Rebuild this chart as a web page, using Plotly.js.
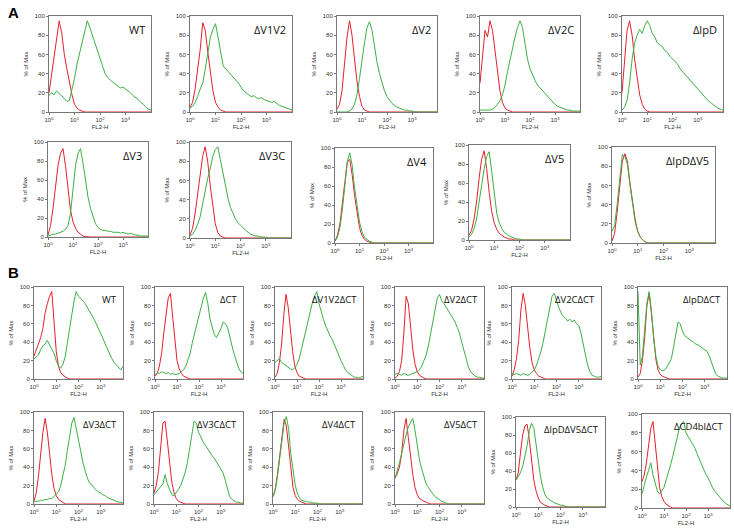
<!DOCTYPE html>
<html><head><meta charset="utf-8">
<script src="https://cdn.plot.ly/plotly-3.0.1.min.js"></script>
<style>html,body{margin:0;padding:0;background:#fff}#chart{width:734px;height:528px}</style>
</head><body><div id="chart"></div>
<script>
// FL2-H channel positions (log10 decades) at which the histograms were read
const decades = [0,0.1,0.2,0.3,0.4,0.5,0.6,0.7,0.8,0.9,1.0,1.1,1.2,1.3,1.4,1.5,1.6,1.7,1.8,1.9,2.0,2.1,2.2,2.3,2.4,2.5,2.6,2.7,2.8,2.9,3.0,3.1,3.2,3.3,3.4,3.5,3.6,3.7,3.8,3.9,4.0];
const xTickVals = [1,10,100,1000];
const xTickText = ['10<sup>0</sup>','10<sup>1</sup>','10<sup>2</sup>','10<sup>3</sup>'];
const yTickVals = [0,20,40,60,80,100];
const panelLabels = ['WT','ΔV1V2','ΔV2','ΔV2C','ΔlpD','ΔV3','ΔV3C','ΔV4','ΔV5','ΔlpDΔV5',
  'WT','ΔCT','ΔV1V2ΔCT','ΔV2ΔCT','ΔV2CΔCT','ΔlpDΔCT','ΔV3ΔCT','ΔV3CΔCT','ΔV4ΔCT','ΔV5ΔCT','ΔlpDΔV5ΔCT','ΔCD4blΔCT'];

// % of Max values (red = control, green = stained)
const redA_WT      = [20,38,58,74,95,82,60,45,30,18,8,4,2,1,0,0,0,0,0,0,0,0,0,0,0,0,0,0,0,0,0,0,0,0,0,0,0,0,0,0,0];
const greenA_WT    = [17,20,18,22,19,17,14,11,12,22,35,50,62,72,85,95,88,80,70,62,55,47,40,36,33,31,29,27,25,26,24,22,20,17,15,13,10,8,5,3,2];
const redA_V1V2    = [5,10,24,42,65,93,85,62,42,22,10,5,2,1,0,0,0,0,0,0,0,0,0,0,0,0,0,0,0,0,0,0,0,0,0,0,0,0,0,0,0];
const greenA_V1V2  = [4,6,10,16,24,30,45,62,78,86,92,78,62,48,45,42,40,36,33,30,26,22,20,18,16,17,15,14,15,13,12,11,10,11,9,7,6,5,4,3,2];
const redA_V2      = [3,8,22,48,78,95,80,55,32,16,6,2,1,0,0,0,0,0,0,0,0,0,0,0,0,0,0,0,0,0,0,0,0,0,0,0,0,0,0,0,0];
const greenA_V2    = [0,0,0,0,0,1,3,8,18,35,55,72,88,94,85,68,52,40,30,22,16,12,9,7,5,4,3,2,2,1,1,0,0,0,0,0,0,0,0,0,0];
const redA_V2C     = [30,60,85,78,95,85,62,40,22,10,4,2,1,0,0,0,0,0,0,0,0,0,0,0,0,0,0,0,0,0,0,0,0,0,0,0,0,0,0,0,0];
const greenA_V2C   = [2,2,2,2,2,3,5,8,12,18,28,42,55,68,78,88,95,88,72,55,45,38,33,28,25,22,20,16,13,10,8,6,5,4,3,2,2,1,1,1,1];
const redA_lpD     = [20,55,85,95,80,55,35,18,8,3,1,0,0,0,0,0,0,0,0,0,0,0,0,0,0,0,0,0,0,0,0,0,0,0,0,0,0,0,0,0,0];
const greenA_lpD   = [2,5,12,30,55,72,80,86,82,90,95,90,82,78,72,70,68,64,62,58,55,52,50,45,42,38,35,32,30,26,24,20,18,15,12,10,8,6,4,3,2];
const redA_V3      = [2,12,30,55,75,88,93,75,50,28,16,9,5,3,1,0.5,0,0,0,0,0,0,0,0,0,0,0,0,0,0,0,0,0,0,0,0,0,0,0,0,0];
const greenA_V3    = [1,2,3,3,4,5,6,8,12,25,48,75,88,93,78,58,42,30,21,14,10,8,7,7,6,6,5,5,5,4,5,4,3,4,3,2,2,1,1,1,1];
const redA_V3C     = [3,10,25,45,65,85,95,80,55,32,15,6,2,1,0,0,0,0,0,0,0,0,0,0,0,0,0,0,0,0,0,0,0,0,0,0,0,0,0,0,0];
const greenA_V3C   = [2,4,8,14,22,35,50,62,72,85,92,95,82,68,55,42,32,25,20,16,13,10,8,6,4,3,2,2,1,1,1,0,0,0,0,0,0,0,0,0,0];
const redA_V4      = [2,8,20,40,65,85,88,72,50,30,16,8,4,2,1,0,0,0,0,0,0,0,0,0,0,0,0,0,0,0,0,0,0,0,0,0,0,0,0,0,0];
const greenA_V4    = [2,6,16,35,60,85,95,82,58,38,22,12,6,4,2,1,0,0,0,0,0,0,0,0,0,0,0,0,0,0,0,0,0,0,0,0,0,0,0,0,0];
const redA_V5      = [5,10,22,40,65,85,94,75,50,30,18,11,7,5,3,2,1,1,0,0,0,0,0,0,0,0,0,0,0,0,0,0,0,0,0,0,0,0,0,0,0];
const greenA_V5    = [3,6,12,22,40,60,75,88,93,72,48,28,18,12,8,6,4,3,2,1,1,0,0,0,0,0,0,0,0,0,0,0,0,0,0,0,0,0,0,0,0];
const redA_lpDV5   = [2,10,32,60,85,93,85,62,40,24,12,6,3,1,0,0,0,0,0,0,0,0,0,0,0,0,0,0,0,0,0,0,0,0,0,0,0,0,0,0,0];
const greenA_lpDV5 = [12,18,40,70,92,90,82,60,38,22,12,6,3,1,0,0,0,0,0,0,0,0,0,0,0,0,0,0,0,0,0,0,0,0,0,0,0,0,0,0,0];

const redB_WT        = [25,32,38,45,55,72,82,90,95,62,30,14,7,4,2,1,0,0,0,0,0,0,0,0,0,0,0,0,0,0,0,0,0,0,0,0,0,0,0,0,0];
const greenB_WT      = [22,24,26,32,36,38,42,37,33,28,20,14,12,16,24,38,52,70,85,95,90,88,85,82,78,74,70,65,60,55,50,44,38,32,27,22,18,15,12,10,14];
const redB_CT        = [3,6,14,28,50,72,88,93,68,40,20,11,6,3,2,1,0,0,0,0,0,0,0,0,0,0,0,0,0,0,0,0,0,0,0,0,0,0,0,0,0];
const greenB_CT      = [5,7,6,8,7,6,7,5,6,5,5,6,8,10,14,20,28,40,50,60,70,78,88,94,82,65,55,48,45,50,55,62,60,56,45,36,27,19,12,8,6];
const redB_V1V2CT    = [2,6,18,38,70,92,78,52,30,14,7,3,2,1,0,0,0,0,0,0,0,0,0,0,0,0,0,0,0,0,0,0,0,0,0,0,0,0,0,0,0];
const greenB_V1V2CT  = [18,20,22,18,16,14,12,11,10,12,16,22,32,42,55,65,75,83,90,95,82,72,65,58,52,47,43,37,30,25,20,15,10,7,5,3,2,2,1,2,3];
const redB_V2CT      = [1,3,8,20,50,90,82,55,32,16,8,4,2,1,0,0,0,0,0,0,0,0,0,0,0,0,0,0,0,0,0,0,0,0,0,0,0,0,0,0,0];
const greenB_V2CT    = [5,6,5,4,6,5,4,5,6,7,8,10,14,20,26,36,50,62,75,88,92,85,82,78,74,70,66,62,56,50,40,30,20,13,8,5,3,2,2,1,1];
const redB_V2CCT     = [3,10,22,42,75,93,80,55,34,18,10,6,3,2,1,0,0,0,0,0,0,0,0,0,0,0,0,0,0,0,0,0,0,0,0,0,0,0,0,0,0];
const greenB_V2CCT   = [6,5,6,5,4,6,5,4,5,7,10,15,22,30,40,52,65,78,90,93,85,78,72,68,66,63,65,62,64,60,58,50,38,26,15,8,4,3,2,2,3];
const redB_lpDCT     = [2,6,20,45,80,93,72,42,22,10,5,3,2,1,0,0,0,0,0,0,0,0,0,0,0,0,0,0,0,0,0,0,0,0,0,0,0,0,0,0,0];
const greenB_lpDCT   = [95,15,25,50,82,95,75,45,25,14,10,9,10,13,17,22,35,50,62,60,52,47,45,44,42,40,38,37,35,34,32,30,25,18,10,5,3,2,1,1,1];
const redB_V3CT      = [3,12,30,55,78,93,78,55,32,17,9,5,3,1,0,0,0,0,0,0,0,0,0,0,0,0,0,0,0,0,0,0,0,0,0,0,0,0,0,0,0];
const greenB_V3CT    = [2,3,3,4,4,5,5,6,6,8,10,13,20,30,42,58,72,88,94,82,68,55,45,36,28,23,20,17,15,13,12,10,9,7,6,5,4,3,2,2,1];
const redB_V3CCT     = [12,20,35,62,88,90,70,45,24,12,6,3,2,1,0,0,0,0,0,0,0,0,0,0,0,0,0,0,0,0,0,0,0,0,0,0,0,0,0,0,0];
const greenB_V3CCT   = [10,13,16,18,22,32,22,16,10,9,12,16,20,26,34,45,58,75,90,88,78,72,68,64,60,56,53,50,46,42,38,34,26,16,8,5,3,2,2,1,1];
const redB_V4CT      = [8,16,32,52,75,92,85,60,36,18,9,5,3,2,1,0,0,0,0,0,0,0,0,0,0,0,0,0,0,0,0,0,0,0,0,0,0,0,0,0,0];
const greenB_V4CT    = [8,15,30,50,72,88,95,82,55,34,20,11,6,4,3,3,2,2,1,1,1,0,0,0,0,0,0,0,0,0,0,0,0,0,0,0,0,0,0,0,0];
const redB_V5CT      = [28,33,40,55,80,93,72,50,32,18,10,6,4,3,2,1,0,0,0,0,0,0,0,0,0,0,0,0,0,0,0,0,0,0,0,0,0,0,0,0,0];
const greenB_V5CT    = [28,36,45,55,66,75,84,88,93,80,62,48,38,30,22,18,14,11,8,6,4,3,2,1,0,0,0,0,0,0,0,0,0,0,0,0,0,0,0,0,0];
const redB_lpDV5CT   = [30,38,60,80,90,92,75,50,30,18,10,5,3,2,1,0,0,0,0,0,0,0,0,0,0,0,0,0,0,0,0,0,0,0,0,0,0,0,0,0,0];
const greenB_lpDV5CT = [30,34,38,45,55,68,85,93,88,70,50,34,22,14,10,8,6,5,4,3,2,2,1,0,0,0,0,0,0,0,0,0,0,0,0,0,0,0,0,0,0];
const redB_CD4blCT   = [28,35,48,65,85,92,68,40,22,12,7,4,2,1,0,0,0,0,0,0,0,0,0,0,0,0,0,0,0,0,0,0,0,0,0,0,0,0,0,0,0];
const greenB_CD4blCT = [15,25,33,40,48,35,25,18,15,18,22,30,37,46,55,65,75,85,90,92,80,76,72,68,64,58,52,46,40,36,32,26,22,18,15,12,9,7,5,3,2];

const seriesRed = [redA_WT,redA_V1V2,redA_V2,redA_V2C,redA_lpD,redA_V3,redA_V3C,redA_V4,redA_V5,redA_lpDV5,
  redB_WT,redB_CT,redB_V1V2CT,redB_V2CT,redB_V2CCT,redB_lpDCT,redB_V3CT,redB_V3CCT,redB_V4CT,redB_V5CT,redB_lpDV5CT,redB_CD4blCT];
const seriesGreen = [greenA_WT,greenA_V1V2,greenA_V2,greenA_V2C,greenA_lpD,greenA_V3,greenA_V3C,greenA_V4,greenA_V5,greenA_lpDV5,
  greenB_WT,greenB_CT,greenB_V1V2CT,greenB_V2CT,greenB_V2CCT,greenB_lpDCT,greenB_V3CT,greenB_V3CCT,greenB_V4CT,greenB_V5CT,greenB_lpDV5CT,greenB_CD4blCT];

// plot-area boxes in pixels: [left, top, right, bottom]
const boxes = [
  [49,16,151,112],[190,16,292,112],[337,16,437,112],[480,16,580,112],[622,16,723,112],
  [48,142,148,237],[190,142,291,238],[335,148,433,243],[469,145,570,240],[612,147,715,243],
  [34,287,123,379],[155,287,243,379],[275,287,363,379],[395,287,484,379],[512,287,601,379],[638,287,727,379],
  [34,412,123,504],[154,412,243,504],[273,412,362,504],[395,412,484,504],[516,417,605,507],[642,414,730,508]
];
const W = 734, H = 528;
const xVals = decades.map(d => Math.pow(10, d));
const traces = [], layout = {
  width: W, height: H, margin: {l:0,r:0,t:0,b:0}, paper_bgcolor:'#fff', plot_bgcolor:'#fff',
  showlegend:false, font:{family:'Liberation Sans, Arial, sans-serif', color:'#333'}, annotations: []
};
boxes.forEach((b, i) => {
  const n = i + 1, sfx = n === 1 ? '' : String(n);
  const xa = 'x' + sfx, ya = 'y' + sfx;
  traces.push({x:xVals, y:seriesRed[i], xaxis:xa, yaxis:ya, type:'scatter', mode:'lines',
    line:{color:'#e4202c', width:1}, hoverinfo:'skip'});
  traces.push({x:xVals, y:seriesGreen[i], xaxis:xa, yaxis:ya, type:'scatter', mode:'lines',
    line:{color:'#3cb043', width:1}, hoverinfo:'skip'});
  layout['xaxis' + sfx] = {
    domain:[b[0]/W, b[2]/W], anchor:ya, type:'log', range:[0,4], showgrid:false, zeroline:false,
    showline:true, mirror:true, linecolor:'#777', linewidth:1,
    tickmode:'array', tickvals:xTickVals, ticktext:xTickText, ticks:'outside', ticklen:2, tickcolor:'#777',
    tickfont:{size:6, color:'#333'}, title:{text:'FL2-H', font:{size:6, color:'#333'}, standoff:2}
  };
  layout['yaxis' + sfx] = {
    domain:[1 - b[3]/H, 1 - b[1]/H], anchor:xa, range:[0,100], showgrid:false, zeroline:false,
    showline:true, mirror:true, linecolor:'#777', linewidth:1,
    tickmode:'array', tickvals:yTickVals, ticks:'outside', ticklen:2, tickcolor:'#777',
    tickfont:{size:6, color:'#333'}, title:{text:'% of Max', font:{size:6, color:'#333'}, standoff:5}
  };
  layout.annotations.push({
    text: panelLabels[i], xref: xa + ' domain', yref: ya + ' domain', x: 0.96, y: 0.96,
    xanchor:'right', yanchor:'top', showarrow:false,
    font:{size: i < 10 ? 11 : 9.5, color:'#111', family:'Open Sans, Liberation Sans, sans-serif'}
  });
});
layout.annotations.push({text:'<b>A</b>', xref:'paper', yref:'paper', x:6/W, y:1-2/H, xanchor:'left', yanchor:'top',
  showarrow:false, font:{size:15, color:'#000', family:'Liberation Sans, Arial, sans-serif'}});
layout.annotations.push({text:'<b>B</b>', xref:'paper', yref:'paper', x:6/W, y:1-262/H, xanchor:'left', yanchor:'top',
  showarrow:false, font:{size:15, color:'#000', family:'Liberation Sans, Arial, sans-serif'}});
Plotly.newPlot('chart', traces, layout, {staticPlot:true, displayModeBar:false});
</script></body></html>
